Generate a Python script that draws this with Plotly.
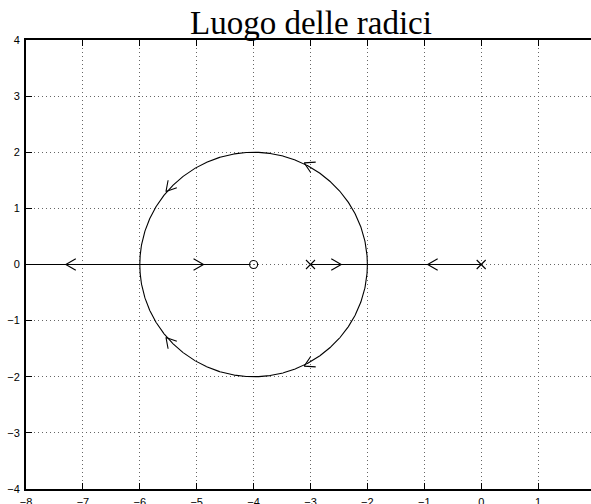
import numpy as np
import plotly.graph_objects as go

# Open-loop transfer function G(s) = K (s + 4) / (s (s + 3))
num = [1, 4]
den = [1, 3, 0]

# Gain sweep for the root locus (breakaway gains 1 and 9 included exactly)
gains = np.concatenate([
    np.linspace(0, 1, 300),
    np.linspace(1, 9, 600),
    np.linspace(9, 60, 300),
])

# Direction arrows placed along the locus (x, y)
arrow_x = [-7.30, -4.88, -2.46, -0.94, -3.11, -5.54, -3.11, -5.54]
arrow_y = [0.00, 0.00, 0.00, 0.00, 1.81, 1.30, -1.81, -1.30]

x_ticks = [-8, -7, -6, -5, -4, -3, -2, -1, 0, 1]
y_ticks = [-4, -3, -2, -1, 0, 1, 2, 3, 4]

W, H = 591, 504
M = dict(l=26, r=0, t=40, b=15)
X_RANGE = [-8, 1.93]
Y_RANGE = [-4, 4]

poles = np.roots(den)
zeros = np.roots(num)

# Closed-loop roots for each gain: den(s) + K num(s) = 0
num_pad = np.concatenate([np.zeros(len(den) - len(num)), num])
branch_a, branch_b = [], []
for k in gains:
    r = np.roots(np.array(den, float) + k * num_pad)
    r = np.where(np.abs(r.imag) < 1e-9, r.real + 0j, r)
    r = sorted(r, key=lambda z: (round(z.imag, 9), z.real), reverse=True)
    branch_a.append(r[0])
    branch_b.append(r[1])
branch_a = np.array(branch_a)
branch_b = np.array(branch_b)

# pixel scale of the plotting area, used to draw equal-sized arrowheads
px_x = (W - M["l"] - M["r"]) / (X_RANGE[1] - X_RANGE[0])
px_y = (H - M["t"] - M["b"]) / (Y_RANGE[1] - Y_RANGE[0])
HEAD_LEN = 11.5
HEAD_ANGLE = np.deg2rad(30)

# open chevron arrowheads, oriented along increasing gain
chev_x, chev_y = [], []
for ax_, ay_ in zip(arrow_x, arrow_y):
    p = complex(ax_, ay_)
    best = None
    for br in (branch_a, branch_b):
        i = int(np.argmin(np.abs(br - p)))
        d = abs(br[i] - p)
        if best is None or d < best[0]:
            best = (d, br, i)
    _, br, i = best
    j0, j1 = max(i - 2, 0), min(i + 2, len(br) - 1)
    step = br[j1] - br[j0]
    heading = np.arctan2(step.imag * px_y, step.real * px_x)
    a1, a2 = heading + HEAD_ANGLE, heading - HEAD_ANGLE
    chev_x += [ax_ - HEAD_LEN * np.cos(a1) / px_x, ax_,
               ax_ - HEAD_LEN * np.cos(a2) / px_x, None]
    chev_y += [ay_ - HEAD_LEN * np.sin(a1) / px_y, ay_,
               ay_ - HEAD_LEN * np.sin(a2) / px_y, None]

line_style = dict(color="black", width=1.1)

fig = go.Figure()
for br in (branch_a, branch_b):
    fig.add_trace(go.Scatter(x=br.real, y=br.imag, mode="lines",
                             line=line_style, hoverinfo="skip"))
fig.add_trace(go.Scatter(x=chev_x, y=chev_y, mode="lines",
                         line=line_style, hoverinfo="skip"))
fig.add_trace(go.Scatter(x=poles.real, y=poles.imag, mode="markers",
                         marker=dict(symbol="x-thin", size=9,
                                     line=dict(color="black", width=1.1))))
fig.add_trace(go.Scatter(x=zeros.real, y=zeros.imag, mode="markers",
                         marker=dict(symbol="circle-open", size=8,
                                     color="black",
                                     line=dict(color="black", width=1.1))))

axis_common = dict(
    showgrid=True, gridcolor="#666666", gridwidth=1, griddash="1px,3px",
    zeroline=False, showline=True, linecolor="black", linewidth=2,
    ticks="inside", ticklen=6, tickwidth=1, tickcolor="black",
    automargin=False,
    tickfont=dict(family="Liberation Sans, Arial, sans-serif", size=11,
                  color="black"),
)

fig.update_layout(
    width=W, height=H, margin=M,
    paper_bgcolor="white", plot_bgcolor="white",
    showlegend=False,
    xaxis=dict(range=X_RANGE, tickvals=x_ticks, mirror="ticks",
               ticklabelstandoff=2, **axis_common),
    yaxis=dict(range=Y_RANGE, tickvals=y_ticks, mirror=False,
               ticklabelstandoff=2, **axis_common),
    annotations=[dict(
        text="Luogo delle radici", xref="paper", yref="paper",
        x=0.504, y=1, xanchor="center", yanchor="bottom", yshift=-3,
        showarrow=False,
        font=dict(family="Liberation Serif, Times New Roman, serif",
                  size=33, color="black"),
    )],
)

fig.write_html("out.html")
